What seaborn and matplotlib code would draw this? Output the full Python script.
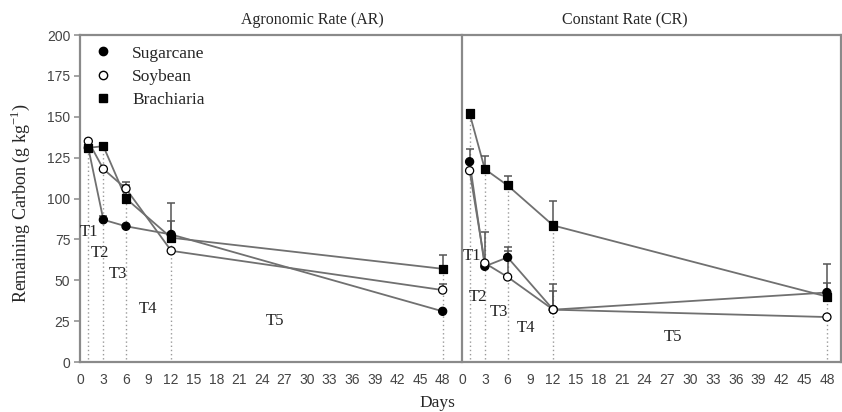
import numpy as np
import pandas as pd
import matplotlib
matplotlib.use("Agg")
import matplotlib.pyplot as plt
from matplotlib.lines import Line2D
import seaborn as sns

# ---------------- data ----------------
days = [1, 3, 6, 12, 48]
residues = ["Sugarcane", "Soybean", "Brachiaria"]

ar_sugarcane = [131, 87, 83, 78, 31]
ar_soybean = [135, 118, 106, 68, 44]
ar_brachiaria = [131, 132, 100, 76, 57]
ar_sugarcane_err = [0, 2.5, 0, 8, 0]
ar_soybean_err = [0, 0, 2, 0, 3.5]
ar_brachiaria_err = [0, 0, 10, 21, 8.5]

cr_sugarcane = [122.5, 58.5, 64, 32, 42.5]
cr_soybean = [117, 60.5, 52, 32, 27.5]
cr_brachiaria = [152, 118, 108, 83.5, 40]
cr_sugarcane_err = [7.5, 0, 6.5, 15.5, 17.4]
cr_soybean_err = [0, 19, 16, 11.5, 0]
cr_brachiaria_err = [0, 8, 5.5, 15, 8.5]

phase_labels = ["T1", "T2", "T3", "T4", "T5"]
ar_phase_x = [1.1, 2.5, 4.9, 8.9, 25.7]
ar_phase_y = [79.5, 66.5, 54, 32.5, 25]
cr_phase_x = [1.3, 2.1, 4.9, 8.4, 27.8]
cr_phase_y = [64.8, 40, 30.8, 20.8, 15.5]

x_ticks = list(range(0, 49, 3))
y_ticks = list(range(0, 201, 25))

titles = ["Agronomic Rate (AR)", "Constant Rate (CR)"]


def make_df(vals, errs):
    rows = []
    for r, v, e in zip(residues, vals, errs):
        for d, vi, ei in zip(days, v, e):
            rows.append({"day": d, "C": vi, "err": ei, "residue": r})
    return pd.DataFrame(rows)


df_ar = make_df([ar_sugarcane, ar_soybean, ar_brachiaria],
                [ar_sugarcane_err, ar_soybean_err, ar_brachiaria_err])
df_cr = make_df([cr_sugarcane, cr_soybean, cr_brachiaria],
                [cr_sugarcane_err, cr_soybean_err, cr_brachiaria_err])

# ---------------- style ----------------
sns.set_style("white")
plt.rcParams["font.family"] = ["Liberation Serif", "DejaVu Serif"]

SPINE = "#8a8a8a"
LINE = "#707070"
TICKC = "#444444"
SANS = ["Liberation Sans", "DejaVu Sans"]

fig = plt.figure(figsize=(8.42, 4.12), dpi=100)
ax1 = fig.add_axes([80 / 842, 1 - 362 / 412, 380 / 842, 327 / 412])
ax2 = fig.add_axes([462 / 842, 1 - 362 / 412, 379 / 842, 327 / 412])

face = {"Sugarcane": "black", "Soybean": "white", "Brachiaria": "black"}
marks = {"Sugarcane": "o", "Soybean": "o", "Brachiaria": "s"}


def draw(ax, df, px, py, xlim):
    # dotted guide lines at sampling days
    tops = df.groupby("day")["C"].max()
    ax.vlines(tops.index, 2, tops.values, colors="#9a9a9a",
              linestyles=(0, (1, 2)), linewidth=1.0, zorder=1)
    sns.lineplot(data=df, x="day", y="C", units="residue", estimator=None,
                 color=LINE, linewidth=1.3, ax=ax, legend=False, zorder=2)
    for r in residues:
        sub = df[(df.residue == r) & (df.err > 0)]
        ax.errorbar(sub.day, sub.C, yerr=[np.zeros(len(sub)), sub.err],
                    fmt="none", ecolor="#555555", elinewidth=1.1,
                    capsize=3, capthick=1.1, zorder=3)
    sns.scatterplot(data=df, x="day", y="C", hue="residue", palette=face,
                    style="residue", markers=marks, edgecolor="black",
                    linewidth=0.9, s=34, ax=ax, legend=False, zorder=4)
    for t, x, y in zip(phase_labels, px, py):
        ax.text(x, y, t, fontsize=12, ha="center", va="center", color="#222222")
    ax.set_xlim(*xlim)
    ax.set_ylim(0, 200)
    ax.set_xticks(x_ticks)
    ax.set_xticklabels([str(t) for t in x_ticks], family=SANS, fontsize=10, color=TICKC)
    ax.set_xlabel("")
    ax.set_ylabel("")
    ax.tick_params(axis="x", direction="out", length=4, width=1.1, color=SPINE, pad=4)
    for s in ax.spines.values():
        s.set_color(SPINE)
        s.set_linewidth(1.6)


draw(ax1, df_ar, ar_phase_x, ar_phase_y, (-0.1, 50.3))
draw(ax2, df_cr, cr_phase_x, cr_phase_y, (0, 49.85))

ax1.spines["right"].set_visible(False)
ax1.set_yticks(y_ticks)
ax1.set_yticklabels([str(t) for t in y_ticks], family=SANS, fontsize=10, color=TICKC)
ax1.tick_params(axis="y", direction="out", length=4, width=1.1, color=SPINE, pad=3,
                left=True)
ax2.set_yticks([])
ax2.tick_params(axis="y", left=False)

fig.text(312 / 842, 1 - 20 / 412, titles[0], ha="center", va="center", fontsize=11.5)
fig.text(625 / 842, 1 - 20 / 412, titles[1], ha="center", va="center", fontsize=11.5)
fig.text(20 / 842, 1 - 203 / 412, "Remaining Carbon (g kg$^{\\mathregular{-1}}$)", rotation=90,
         ha="center", va="center", fontsize=13)
fig.text(437 / 842, 1 - 403 / 412, "Days", ha="center", va="center", fontsize=12.5)

handles = [Line2D([], [], linestyle="none", marker=marks[r], markerfacecolor=face[r],
                  markeredgecolor="black", markersize=6) for r in residues]
ax1.legend(handles, residues, loc="upper left", bbox_to_anchor=(0.0, 1.0),
           frameon=False, fontsize=12.5, handletextpad=0.9, labelspacing=0.4,
           handlelength=1.5, borderaxespad=0.2)

fig.savefig("out.png", dpi=100, facecolor="white")
